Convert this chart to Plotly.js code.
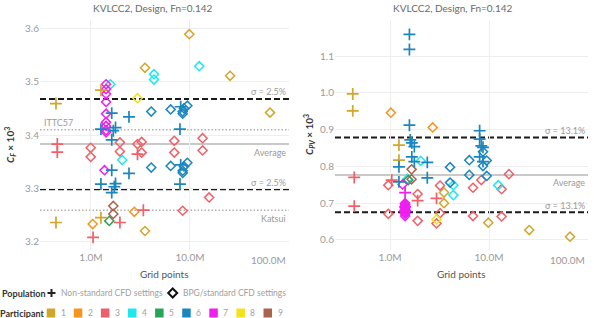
<!DOCTYPE html>
<html>
<head>
<meta charset="utf-8">
<script src="https://cdn.plot.ly/plotly-3.0.1.min.js"></script>
<style>
  html, body { margin: 0; padding: 0; background: #fff; }
  #chart { width: 594px; height: 318px; }
</style>
</head>
<body>
<div id="chart"></div>
<script>
// ---- Categories ----
const participants = [1, 2, 3, 4, 5, 6, 7, 8, 9];
const participantColors = ['#D2A52B', '#F7941D', '#EF6068', '#1DE8F0', '#28A35A',
                           '#1B86BE', '#F01EF0', '#F2E31A', '#A9644F'];
const settingNames = { N: 'Non-standard CFD settings', B: 'BPG/standard CFD settings' };

// ---- Axis ticks ----
const gridTickVals = [1e6, 1e7, 1e8];
const gridTickText = ['1.0M', '10.0M', '100.0M'];
const cfTickVals = [3.2, 3.3, 3.4, 3.5, 3.6];
const cpvTickVals = [0.6, 0.7, 0.8, 0.9, 1.0, 1.1];

// ---- Friction coefficient C_F x 10^3 ----
const cfGridM = [
  0.443, 0.443, 1.26, 1.26, 3.51, 3.51, 9.84, 25.4, 64.3,
  1.04, 2.74,
  0.457, 0.457, 1.05, 1.96, 2.95, 3.38,
  0.993, 0.993, 1.96, 1.96, 2.95, 3.25, 3.25, 6.94, 6.94, 13.4, 13.4, 15.6, 8.44,
  1.57, 4.33, 4.33, 12.4, 2.07,
  1.53,
  1.62, 2.42, 1.26, 1.77, 1.68, 7.92, 8.05, 1.62, 1.62, 2.42, 1.26, 1.77, 1.72, 1.62, 7.92, 8.05,
  4.06, 6.38, 8.44, 8.69, 9.4, 8.44, 4.06, 6.38, 8.44, 8.44, 8.69, 9.4,
  1.42, 1.42, 1.42, 1.42, 1.42, 1.42, 1.42, 1.42, 1.42, 1.37,
  2.95,
  1.68, 1.68
];
const cfValue = [
  3.459, 3.236, 3.484, 3.245, 3.526, 3.220, 3.589, 3.511, 3.442,
  3.233, 3.256,
  3.383, 3.368, 3.208, 3.236, 3.364, 3.259,
  3.376, 3.359, 3.386, 3.369, 3.383, 3.387, 3.367, 3.389, 3.367, 3.394, 3.371, 3.283, 3.258,
  3.495, 3.514, 3.504, 3.529, 3.353,
  3.239,
  3.441, 3.434, 3.411, 3.414, 3.408, 3.411, 3.453, 3.391, 3.334, 3.328, 3.308, 3.309, 3.303, 3.292, 3.308, 3.344,
  3.444, 3.448, 3.444, 3.450, 3.455, 3.440, 3.339, 3.342, 3.333, 3.329, 3.341, 3.348,
  3.495, 3.486, 3.477, 3.462, 3.440, 3.424, 3.417, 3.409, 3.405, 3.334,
  3.469,
  3.267, 3.252
];
const cfParticipant = [
  1, 1, 1, 1, 1, 1, 1, 1, 1,
  2, 2,
  3, 3, 3, 3, 3, 3,
  3, 3, 3, 3, 3, 3, 3, 3, 3, 3, 3, 3, 3,
  4, 4, 4, 4, 4,
  5,
  6, 6, 6, 6, 6, 6, 6, 6, 6, 6, 6, 6, 6, 6, 6, 6,
  6, 6, 6, 6, 6, 6, 6, 6, 6, 6, 6, 6,
  7, 7, 7, 7, 7, 7, 7, 7, 7, 7,
  8,
  9, 9
];
const cfSetting = [
  'N', 'N', 'N', 'N', 'B', 'B', 'B', 'B', 'B',
  'B', 'B',
  'N', 'N', 'N', 'N', 'N', 'N',
  'B', 'B', 'B', 'B', 'B', 'B', 'B', 'B', 'B', 'B', 'B', 'B', 'B',
  'B', 'B', 'B', 'B', 'B',
  'B',
  'N', 'N', 'N', 'N', 'N', 'N', 'N', 'N', 'N', 'N', 'N', 'N', 'N', 'N', 'N', 'N',
  'B', 'B', 'B', 'B', 'B', 'B', 'B', 'B', 'B', 'B', 'B', 'B',
  'B', 'B', 'B', 'B', 'B', 'B', 'B', 'B', 'B', 'B',
  'B',
  'B', 'B'
];

// ---- Viscous pressure coefficient C_PV x 10^3 ----
const cpvGridM = [
  0.42, 0.42, 1.23, 1.23, 3.51, 3.51, 9.84, 25.5, 65.8,
  1.02, 2.7,
  0.435, 0.435, 1.04, 1.9, 2.95,
  0.96, 0.96, 1.9, 1.9, 3.2, 3.2, 2.95, 6.89, 6.89, 8.36, 13.4, 13.4, 15.9,
  2.04, 4.36, 4.36, 12.4, 1.5,
  1.53,
  1.57, 1.57, 1.57, 1.23, 1.23, 1.6, 1.66, 1.66, 1.76, 1.76, 2.38, 2.38, 8.04, 8.04, 8.04, 8.36, 8.69, 8.69,
  8.69, 9.48, 8.69, 9.48, 6.32, 6.32, 4.04, 4.04,
  1.34, 1.42, 1.42, 1.42, 1.42, 1.42, 1.42, 1.42, 1.42, 1.42, 1.42, 1.42, 1.42,
  2.95,
  1.65, 1.65
];
const cpvValue = [
  0.997, 0.951, 0.858, 0.817, 0.729, 0.700, 0.647, 0.627, 0.609,
  0.946, 0.906,
  0.770, 0.692, 0.763, 0.707, 0.713,
  0.749, 0.671, 0.725, 0.652, 0.748, 0.673, 0.645, 0.742, 0.665, 0.763, 0.738, 0.664, 0.779,
  0.815, 0.749, 0.722, 0.749, 0.766,
  0.763,
  1.159, 1.118, 0.912, 0.799, 0.758, 0.872, 0.864, 0.826, 0.854, 0.813, 0.811, 0.769, 0.897, 0.874, 0.826, 0.856, 0.852, 0.813,
  0.840, 0.816, 0.801, 0.774, 0.817, 0.777, 0.798, 0.756,
  0.751, 0.729, 0.690, 0.680, 0.700, 0.696, 0.692, 0.688, 0.684, 0.679, 0.675, 0.671, 0.665,
  0.656,
  0.792, 0.765
];
const cpvParticipant = [
  1, 1, 1, 1, 1, 1, 1, 1, 1,
  2, 2,
  3, 3, 3, 3, 3,
  3, 3, 3, 3, 3, 3, 3, 3, 3, 3, 3, 3, 3,
  4, 4, 4, 4, 4,
  5,
  6, 6, 6, 6, 6, 6, 6, 6, 6, 6, 6, 6, 6, 6, 6, 6, 6, 6,
  6, 6, 6, 6, 6, 6, 6, 6,
  7, 7, 7, 7, 7, 7, 7, 7, 7, 7, 7, 7, 7,
  8,
  9, 9
];
const cpvSetting = [
  'N', 'N', 'N', 'N', 'B', 'B', 'B', 'B', 'B',
  'B', 'B',
  'N', 'N', 'N', 'N', 'N',
  'B', 'B', 'B', 'B', 'B', 'B', 'B', 'B', 'B', 'B', 'B', 'B', 'B',
  'B', 'B', 'B', 'B', 'B',
  'B',
  'N', 'N', 'N', 'N', 'N', 'N', 'N', 'N', 'N', 'N', 'N', 'N', 'N', 'N', 'N', 'N', 'N', 'N',
  'B', 'B', 'B', 'B', 'B', 'B', 'B', 'B',
  'B', 'N', 'N', 'N', 'B', 'B', 'B', 'B', 'B', 'B', 'B', 'B', 'B',
  'B',
  'B', 'B'
];

// ---- Reference levels ----
const cfAverage = 3.383, cfSigmaPct = 2.5, cfITTC57 = 3.410, cfKatsui = 3.259;
const cpvAverage = 0.777, cpvSigmaPct = 13.1;

// ---- Page geometry helpers (pixels -> paper) ----
const W = 594, H = 318;
const px = x => x / W;
const py = y => 1 - y / H;
const FONT = 'Lato, "Noto Sans", "DejaVu Sans", sans-serif';

function markerFor(setting, color) {
  if (setting === 'N') {
    return { symbol: 'cross-thin', size: 8.5, color: color, line: { color: color, width: 1.7 } };
  }
  return { symbol: 'diamond-open', size: 7, color: color, line: { color: color, width: 1.5 } };
}

function buildTraces(grid, val, part, sett, xa, ya) {
  const traces = [];
  ['B', 'N'].forEach(s => {
    participants.forEach((p, pi) => {
      const xs = [], ys = [];
      for (let i = 0; i < grid.length; i++) {
        if (part[i] === p && sett[i] === s) { xs.push(grid[i] * 1e6); ys.push(val[i]); }
      }
      if (!xs.length) return;
      traces.push({
        type: 'scatter', mode: 'markers', x: xs, y: ys, xaxis: xa, yaxis: ya,
        name: 'Participant ' + p + ' – ' + settingNames[s],
        marker: markerFor(s, participantColors[pi]),
        showlegend: false, hoverinfo: 'x+y+name'
      });
    });
  });
  return traces;
}

const data = [].concat(
  buildTraces(cfGridM, cfValue, cfParticipant, cfSetting, 'x', 'y'),
  buildTraces(cpvGridM, cpvValue, cpvParticipant, cpvSetting, 'x2', 'y2')
);

const yDom = [py(250), py(20)];
const xAxisBase = {
  type: 'log', tickvals: gridTickVals.slice(0, 2), ticktext: gridTickText.slice(0, 2),
  showgrid: true, gridcolor: '#eeeeee', gridwidth: 1, zeroline: false, showline: false,
  ticks: '', tickfont: { family: FONT, size: 10, color: '#9a9a9a' }, fixedrange: true
};
const yAxisBase = {
  showgrid: true, gridcolor: '#eeeeee', gridwidth: 1, zeroline: false, showline: false,
  ticks: '', tickfont: { family: FONT, size: 10, color: '#9a9a9a' }, fixedrange: true
};

const shapes = [];
const annotations = [];

function refLine(xref, yref, y, style) {
  shapes.push({ type: 'line', xref: xref + ' domain', yref: yref, x0: 0, x1: 1, y0: y, y1: y,
                line: style, layer: 'below' });
}
const dashed = { color: '#1a1a1a', width: 2, dash: '6px,3px' };
const dotted = { color: '#b0b0b0', width: 1.5, dash: '1.5px,2px' };
const avgStyle = { color: '#c9c9c9', width: 2 };

function refLabel(xref, yref, y, text, side, shift) {
  annotations.push({
    xref: xref + ' domain', yref: yref, x: side === 'right' ? 1 : 0, y: y,
    xanchor: side, yanchor: 'middle', yshift: shift, xshift: side === 'right' ? -1 : 2,
    text: text, showarrow: false, font: { family: FONT, size: 9, color: '#9a9a9a' }
  });
}

// Gridline at the 100M edge of each panel, with its label kept inside the panel
[['x', 'y'], ['x2', 'y2']].forEach(([xa, ya]) => {
  const e = Math.log10(gridTickVals[2]);
  shapes.push({ type: 'line', xref: xa, yref: ya + ' domain', x0: e, x1: e, y0: 0, y1: 1,
    line: { color: '#eeeeee', width: 1 }, layer: 'below' });
});

// C_F panel lines
const cfUpper = cfAverage * (1 + cfSigmaPct / 100);
const cfLower = cfAverage * (1 - cfSigmaPct / 100);
refLine('x', 'y', cfITTC57, dotted);
refLine('x', 'y', cfKatsui, dotted);
refLine('x', 'y', cfAverage, avgStyle);
refLine('x', 'y', cfUpper, dashed);
refLine('x', 'y', cfLower, dashed);
refLabel('x', 'y', cfUpper, 'σ = ' + cfSigmaPct + '%', 'right', 7);
refLabel('x', 'y', cfLower, 'σ = ' + cfSigmaPct + '%', 'right', 7);
refLabel('x', 'y', cfAverage, 'Average', 'right', -8);
refLabel('x', 'y', cfKatsui, 'Katsui', 'right', -8);
refLabel('x', 'y', cfITTC57, 'ITTC57', 'left', 7);

// C_PV panel lines
const cpvUpper = cpvAverage * (1 + cpvSigmaPct / 100);
const cpvLower = cpvAverage * (1 - cpvSigmaPct / 100);
refLine('x2', 'y2', cpvAverage, avgStyle);
refLine('x2', 'y2', cpvUpper, dashed);
refLine('x2', 'y2', cpvLower, dashed);
refLabel('x2', 'y2', cpvUpper, 'σ = ' + cpvSigmaPct + '%', 'right', 7);
refLabel('x2', 'y2', cpvLower, 'σ = ' + cpvSigmaPct + '%', 'right', 7);
refLabel('x2', 'y2', cpvAverage, 'Average', 'right', -8);

// Panel titles, axis titles and the 100M grid label
const titleText = 'KVLCC2, Design, Fn=0.142';
[153, 453].forEach(cx => {
  annotations.push({ xref: 'paper', yref: 'paper', x: px(cx), y: py(8), xanchor: 'center', yanchor: 'middle',
    text: titleText, showarrow: false, font: { family: FONT, size: 10, color: '#6a6a6a' } });
});
[['x', 164.5], ['x2', 461.5]].forEach(([xa, cx]) => {
  annotations.push({ xref: 'paper', yref: 'paper', x: px(cx), y: py(274), xanchor: 'center', yanchor: 'middle',
    text: 'Grid points', showarrow: false, font: { family: FONT, size: 10, color: '#555555' } });
  annotations.push({ xref: xa, yref: 'paper', x: Math.log10(gridTickVals[2]), y: py(260),
    xanchor: 'right', yanchor: 'middle', xshift: -1,
    text: gridTickText[2], showarrow: false, font: { family: FONT, size: 10, color: '#9a9a9a' } });
});
annotations.push({ xref: 'paper', yref: 'paper', x: px(10), y: py(145), textangle: -90,
  xanchor: 'center', yanchor: 'middle', showarrow: false,
  text: '<b><i>C</i><sub><i>F</i></sub> × 10<sup>3</sup></b>',
  font: { family: FONT, size: 10, color: '#333333' } });
annotations.push({ xref: 'paper', yref: 'paper', x: px(309), y: py(135), textangle: -90,
  xanchor: 'center', yanchor: 'middle', showarrow: false,
  text: '<b><i>C</i><sub><i>PV</i></sub> × 10<sup>3</sup></b>',
  font: { family: FONT, size: 10, color: '#333333' } });

// ---- Legend: population symbols ----
const legY1 = 293, legY2 = 313;
annotations.push({ xref: 'paper', yref: 'paper', x: px(0), y: py(legY1), xanchor: 'left', yanchor: 'middle',
  text: '<b>Population</b>', showarrow: false, font: { family: FONT, size: 9, color: '#333333' } });
shapes.push({ type: 'line', xref: 'paper', yref: 'paper', x0: px(47.5), x1: px(55.5), y0: py(legY1), y1: py(legY1),
  line: { color: '#222', width: 2 } });
shapes.push({ type: 'line', xref: 'paper', yref: 'paper', x0: px(51.5), x1: px(51.5), y0: py(legY1 - 4), y1: py(legY1 + 4),
  line: { color: '#222', width: 2 } });
annotations.push({ xref: 'paper', yref: 'paper', x: px(59), y: py(legY1), xanchor: 'left', yanchor: 'middle',
  text: settingNames.N, showarrow: false, font: { family: FONT, size: 8.5, color: '#a0a0a0' } });
const dx = 172.7;
shapes.push({ type: 'path', xref: 'paper', yref: 'paper',
  path: 'M ' + px(dx) + ' ' + py(legY1 - 4.5) + ' L ' + px(dx + 4.5) + ' ' + py(legY1) +
        ' L ' + px(dx) + ' ' + py(legY1 + 4.5) + ' L ' + px(dx - 4.5) + ' ' + py(legY1) + ' Z',
  line: { color: '#111', width: 2 } });
annotations.push({ xref: 'paper', yref: 'paper', x: px(181), y: py(legY1), xanchor: 'left', yanchor: 'middle',
  text: settingNames.B, showarrow: false, font: { family: FONT, size: 8.5, color: '#a0a0a0' } });

// ---- Legend: participant colours ----
annotations.push({ xref: 'paper', yref: 'paper', x: px(-2), y: py(legY2), xanchor: 'left', yanchor: 'middle',
  text: '<b>Participant</b>', showarrow: false, font: { family: FONT, size: 9, color: '#333333' } });
participants.forEach((p, i) => {
  const sx = 46.7 + i * 27.1;
  shapes.push({ type: 'rect', xref: 'paper', yref: 'paper', x0: px(sx), x1: px(sx + 8.5),
    y0: py(legY2 - 4.5), y1: py(legY2 + 4.5), fillcolor: participantColors[i], line: { width: 0 } });
  annotations.push({ xref: 'paper', yref: 'paper', x: px(sx + 12), y: py(legY2), xanchor: 'left', yanchor: 'middle',
    text: String(p), showarrow: false, font: { family: FONT, size: 8.5, color: '#a0a0a0' } });
});

const layout = {
  width: W, height: H,
  margin: { l: 0, r: 0, t: 0, b: 0 },
  paper_bgcolor: '#ffffff', plot_bgcolor: '#ffffff',
  showlegend: false,
  font: { family: FONT },
  xaxis: Object.assign({}, xAxisBase, { domain: [px(40), px(289)], range: [5.485, 8], anchor: 'y' }),
  yaxis: Object.assign({}, yAxisBase, { domain: yDom, range: [3.1844, 3.6156], tickvals: cfTickVals,
    ticktext: cfTickVals.map(v => v.toFixed(1)), anchor: 'x' }),
  xaxis2: Object.assign({}, xAxisBase, { domain: [px(335), px(588)], range: [5.444, 8], anchor: 'y2' }),
  yaxis2: Object.assign({}, yAxisBase, { domain: yDom, range: [0.5728, 1.198], tickvals: cpvTickVals,
    ticktext: cpvTickVals.map(v => v.toFixed(1)), anchor: 'x2' }),
  shapes: shapes,
  annotations: annotations
};

Plotly.newPlot('chart', data, layout, { staticPlot: true, displayModeBar: false });
</script>
</body>
</html>
